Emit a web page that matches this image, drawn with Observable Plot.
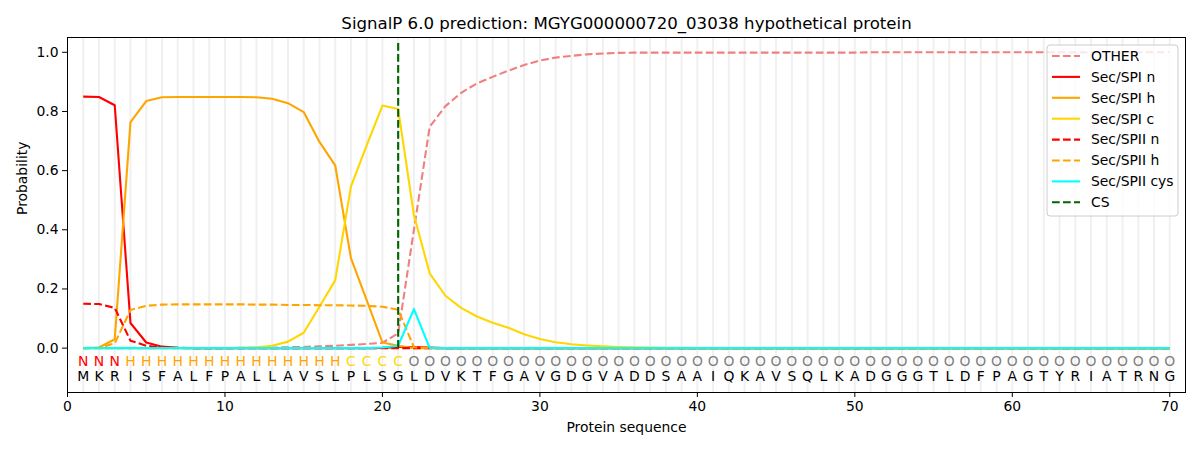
<!DOCTYPE html>
<html>
<head>
<meta charset="utf-8">
<script src="https://cdn.jsdelivr.net/npm/d3@7"></script>
<script src="https://cdn.jsdelivr.net/npm/@observablehq/plot@0.6"></script>
<style>
  html, body { margin: 0; padding: 0; background: #fff; }
  #chart { width: 1200px; height: 450px; }
</style>
</head>
<body>
<div id="chart"></div>
<script>
const titleText = "SignalP 6.0 prediction: MGYG000000720_03038 hypothetical protein";

const residues = ["M","K","R","I","S","F","A","L","F","P","A","L","L","A","V","S","L","P","L","S",
  "G","L","D","V","K","T","F","G","A","V","G","D","G","V","A","D","D","S","A","A",
  "I","Q","K","A","V","S","Q","L","K","A","D","G","G","G","T","L","D","F","P","A",
  "G","T","Y","R","I","A","T","R","N","G"];

const regionLabels = ["N","N","N","H","H","H","H","H","H","H","H","H","H","H","H","H","H","C","C","C",
  "C","O","O","O","O","O","O","O","O","O","O","O","O","O","O","O","O","O","O","O",
  "O","O","O","O","O","O","O","O","O","O","O","O","O","O","O","O","O","O","O","O",
  "O","O","O","O","O","O","O","O","O","O"];

const other = [0,0,0,0,0,0,0,0,0,0,
  0.001,0.001,0.002,0.003,0.004,0.006,0.008,0.011,0.014,0.018,
  0.05,0.40,0.748,0.818,0.863,0.895,0.917,0.938,0.957,0.972,
  0.982,0.988,0.993,0.996,0.998,0.999,0.999,0.999,0.999,0.999,
  0.999,0.999,0.999,0.999,0.999,0.999,0.999,0.999,0.999,0.999,
  1,1,1,1,1,1,1,1,1,1,
  1,1,1,1,1,1,1,1,1,1];

const spiN = [0.85,0.849,0.821,0.085,0.019,0.005,0.001,0,0,0,
  0,0,0,0,0,0,0,0,0,0.001,
  0.004,0.004,0.002,0,0,0,0,0,0,0,
  0,0,0,0,0,0,0,0,0,0,
  0,0,0,0,0,0,0,0,0,0,
  0,0,0,0,0,0,0,0,0,0,
  0,0,0,0,0,0,0,0,0,0];

const spiH = [0,0.002,0.03,0.764,0.835,0.848,0.849,0.849,0.849,0.849,
  0.849,0.848,0.843,0.828,0.798,0.697,0.618,0.304,0.162,0.019,
  0.008,0,0,0,0,0,0,0,0,0,
  0,0,0,0,0,0,0,0,0,0,
  0,0,0,0,0,0,0,0,0,0,
  0,0,0,0,0,0,0,0,0,0,
  0,0,0,0,0,0,0,0,0,0];

const spiC = [0,0,0,0,0,0,0,0,0,0,
  0.001,0.003,0.008,0.022,0.052,0.14,0.229,0.546,0.685,0.82,
  0.808,0.45,0.253,0.177,0.136,0.107,0.086,0.069,0.047,0.031,
  0.02,0.013,0.009,0.006,0.004,0.003,0.002,0.001,0.001,0,
  0,0,0,0,0,0,0,0,0,0,
  0,0,0,0,0,0,0,0,0,0,
  0,0,0,0,0,0,0,0,0,0];

const spiiN = [0.15,0.149,0.136,0.025,0.008,0.002,0.001,0,0,0,
  0,0,0,0,0,0,0,0,0,0,
  0,0,0,0,0,0,0,0,0,0,
  0,0,0,0,0,0,0,0,0,0,
  0,0,0,0,0,0,0,0,0,0,
  0,0,0,0,0,0,0,0,0,0,
  0,0,0,0,0,0,0,0,0,0];

const spiiH = [0,0.001,0.016,0.129,0.143,0.147,0.148,0.148,0.148,0.148,
  0.148,0.147,0.147,0.146,0.146,0.145,0.145,0.144,0.143,0.14,
  0.13,0.003,0,0,0,0,0,0,0,0,
  0,0,0,0,0,0,0,0,0,0,
  0,0,0,0,0,0,0,0,0,0,
  0,0,0,0,0,0,0,0,0,0,
  0,0,0,0,0,0,0,0,0,0];

const spiiCys = [0,0,0,0,0,0,0,0,0,0,
  0,0,0,0,0,0,0,0,0,0.002,
  0.008,0.132,0.001,0,0,0,0,0,0,0,
  0,0,0,0,0,0,0,0,0,0,
  0,0,0,0,0,0,0,0,0,0,
  0,0,0,0,0,0,0,0,0,0,
  0,0,0,0,0,0,0,0,0,0];

const cleavageSite = [21];

const xTicks = [0,10,20,30,40,50,60,70];
const yTicks = [0,0.2,0.4,0.6,0.8,1.0];

const seriesDefs = [
  {name: "OTHER", values: other, color: "#f08080", dash: "7.7,3.3"},
  {name: "Sec/SPI n", values: spiN, color: "#ff0000", dash: null},
  {name: "Sec/SPI h", values: spiH, color: "#ffa500", dash: null},
  {name: "Sec/SPI c", values: spiC, color: "#ffd700", dash: null},
  {name: "Sec/SPII n", values: spiiN, color: "#ff0000", dash: "7.7,3.3"},
  {name: "Sec/SPII h", values: spiiH, color: "#ffa500", dash: "7.7,3.3"},
  {name: "Sec/SPII cys", values: spiiCys, color: "#00ffff", dash: null}
];
const csDef = {name: "CS", color: "#006400", dash: "7.7,3.3"};
const labelColors = {N: "#ff0000", H: "#ffa500", C: "#ffd700", O: "#808080"};

const positions = residues.map((_, i) => i + 1);
const seqData = positions.map((p, i) => ({pos: p, res: residues[i], lab: regionLabels[i]}));

const lineMarks = seriesDefs.map(s => Plot.line(
  s.values.map((v, i) => ({pos: i + 1, v})),
  {x: "pos", y: "v", stroke: s.color, strokeWidth: 2.1, strokeDasharray: s.dash, strokeLinejoin: "round", strokeLinecap: "butt"}
));

const chart = Plot.plot({
  width: 1200,
  height: 450,
  marginLeft: 67,
  marginRight: 15,
  marginTop: 37,
  marginBottom: 58,
  style: {fontFamily: "DejaVu Sans, sans-serif", fontSize: "13.9px", background: "#fff"},
  x: {domain: [0, 71]},
  y: {domain: [-0.15, 1.05]},
  marks: [
    Plot.ruleX(positions, {x: d => d, stroke: "#f0f0f0", strokeWidth: 2}),
    ...lineMarks,
    Plot.ruleX(cleavageSite, {x: d => d, y1: 0, y2: 1.04, stroke: csDef.color, strokeWidth: 2.1, strokeDasharray: csDef.dash}),
    Plot.text(seqData, {x: "pos", y: -0.045, text: "lab", fill: d => labelColors[d.lab], fontSize: 13.9, lineAnchor: "middle"}),
    Plot.text(seqData, {x: "pos", y: -0.097, text: "res", fill: "#000", fontSize: 13.9, lineAnchor: "middle"}),
    Plot.frame({stroke: "#000", strokeWidth: 1}),
    Plot.axisX({ticks: xTicks, tickSize: 5, tickPadding: 4, label: null, fontSize: 13.9, tickFormat: d3.format("d")}),
    Plot.axisY({ticks: yTicks, tickSize: 5, tickPadding: 4, label: null, fontSize: 13.9, tickFormat: d3.format(".1f")}),
    Plot.text([titleText], {frameAnchor: "top", dy: -14, fontSize: 16.6, fill: "#000", lineAnchor: "middle"}),
    Plot.text(["Protein sequence"], {frameAnchor: "bottom", dy: 35, fontSize: 13.9, fill: "#000", lineAnchor: "middle"}),
    Plot.text(["Probability"], {frameAnchor: "left", dx: -45, rotate: -90, fontSize: 13.9, fill: "#000", lineAnchor: "middle"})
  ]
});

document.getElementById("chart").appendChild(chart);

// Legend (upper right, inside the axes)
const svg = d3.select(chart);
const legendItems = [...seriesDefs.map(s => ({name: s.name, color: s.color, dash: s.dash})), {name: csDef.name, color: csDef.color, dash: csDef.dash}];
const lg = svg.append("g").attr("class", "legend")
  .attr("font-family", "DejaVu Sans, sans-serif").attr("text-anchor", "start");
const lx = 1047, ly = 45, lw = 131, rowH = 20.9;
lg.append("rect")
  .attr("x", lx).attr("y", ly).attr("width", lw).attr("height", 171)
  .attr("rx", 3).attr("ry", 3)
  .attr("fill", "#fff").attr("fill-opacity", 0.8)
  .attr("stroke", "#cccccc").attr("stroke-width", 1);
legendItems.forEach((it, i) => {
  const y = ly + 11 + i * rowH;
  lg.append("line")
    .attr("x1", lx + 5).attr("x2", lx + 33).attr("y1", y).attr("y2", y)
    .attr("stroke", it.color).attr("stroke-width", 2.1)
    .attr("stroke-dasharray", it.dash);
  lg.append("text")
    .attr("x", lx + 44).attr("y", y).attr("dy", "0.35em")
    .attr("text-anchor", "start")
    .style("font-size", "13.9px").attr("fill", "#000")
    .text(it.name);
});
</script>
</body>
</html>
